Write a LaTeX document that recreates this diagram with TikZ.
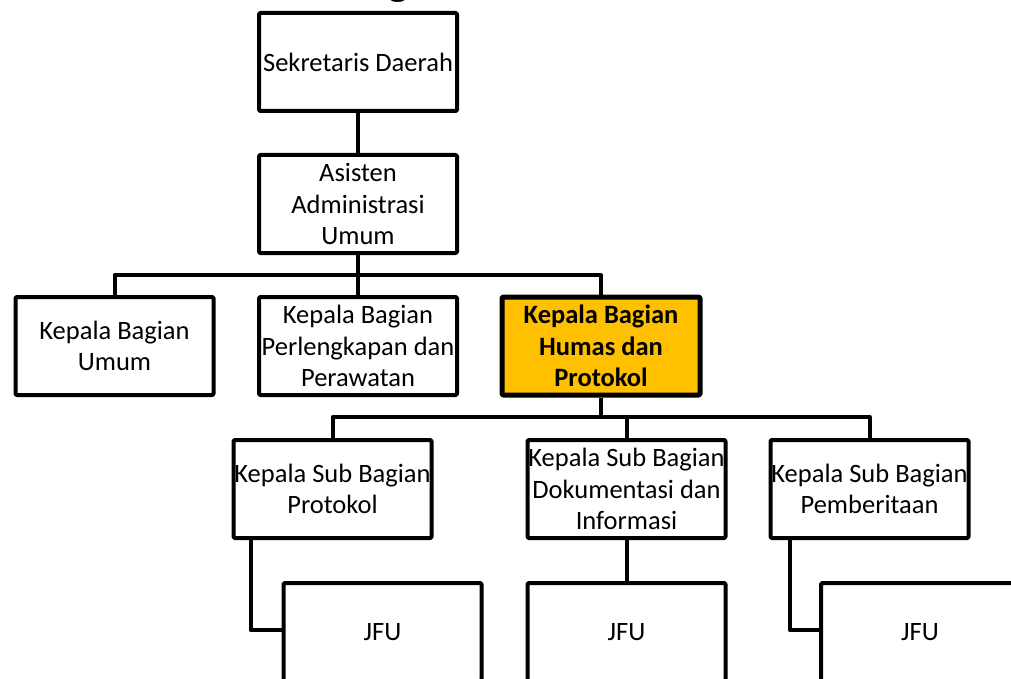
\documentclass[tikz,border=0pt]{standalone}
\usepackage{fontspec}
\setmainfont{Carlito}
\newfontfamily\titlefont{Liberation Serif}
\definecolor{humasfill}{HTML}{FFC000}
\begin{document}
\begin{tikzpicture}[x=1pt,y=-1pt,
  box/.style={draw=black,line width=4pt,line join=round,rounded corners=1.2pt,
    minimum width=198pt,minimum height=98pt,inner sep=0pt,align=center,
    font=\fontsize{26.5}{31.5}\selectfont,fill=white},
  hbox/.style={box,fill=humasfill,line width=5pt,font=\fontsize{26.5}{31.5}\selectfont\bfseries},
  conn/.style={line width=4pt,line join=round}]
\useasboundingbox (0,0) rectangle (1011,679);
\clip (0,0) rectangle (1011,679);
\node[anchor=base,inner sep=0pt,font=\titlefont\bfseries\fontsize{36}{36}\selectfont] (title) at (398,-5) {g};
\node[box] (sek) at (358,62) {Sekretaris Daerah};
\node[box] (asi) at (358,204) {Asisten\\Administrasi\\Umum};
\node[box] (umum) at (114.5,346) {Kepala Bagian\\Umum};
\node[box] (perl) at (358,346) {Kepala Bagian\\Perlengkapan dan\\Perawatan};
\node[hbox] (humas) at (601,346) {Kepala Bagian\\Humas dan\\Protokol};
\node[box] (prot) at (332.5,489) {Kepala Sub Bagian\\Protokol};
\node[box] (dok) at (626.5,489) {Kepala Sub Bagian\\Dokumentasi dan\\Informasi};
\node[box] (pem) at (869.5,489) {Kepala Sub Bagian\\Pemberitaan};
\node[box] (jfu1) at (382.5,632) {JFU};
\node[box] (jfu2) at (626.5,632) {JFU};
\node[box] (jfu3) at (920,632) {JFU};
\coordinate (bar1) at (0,275);
\coordinate (bar2) at (0,417);
\draw[conn] (sek.south) -- (asi.north);
\draw[conn] (asi.south) -- (perl.north);
\draw[conn] (umum.north) -- (umum.north |- bar1) -- (humas.north |- bar1) -- (humas.north);
\draw[conn] (humas.south) -- (humas.south |- bar2);
\draw[conn] (prot.north) -- (prot.north |- bar2) -- (pem.north |- bar2) -- (pem.north);
\draw[conn] (dok.north |- bar2) -- (dok.north);
\draw[conn] ([xshift=19pt]prot.south west) |- ([yshift=2pt]jfu1.west);
\draw[conn] ([xshift=21pt]pem.south west) |- ([yshift=2pt]jfu3.west);
\draw[conn] (dok.south) -- (jfu2.north);
\end{tikzpicture}
\end{document}
